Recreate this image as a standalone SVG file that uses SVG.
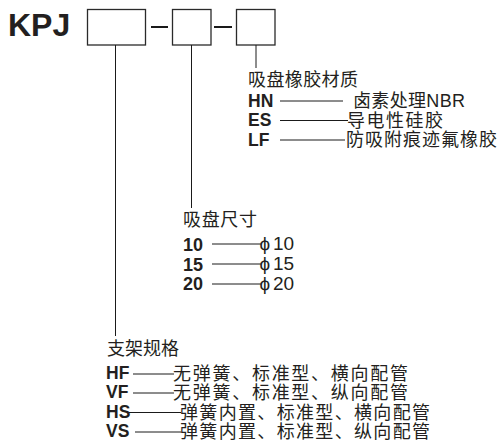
<svg xmlns="http://www.w3.org/2000/svg" width="499" height="441" viewBox="0 0 499 441">
<style>
text{fill:#231f20;font-family:"Liberation Sans","Noto Sans CJK SC",Arial,sans-serif}
.b{font-weight:bold;font-size:17.5px}
.t{font-size:18px}
.n{font-size:19px}
.box{fill:#fff;stroke:#2a2a2a;stroke-width:1.3}
.ln{stroke:#1a1a1a;stroke-width:1;fill:none}
.dash{stroke:#1a1a1a;stroke-width:2}
</style>
<rect width="499" height="441" fill="#fff"/>
<g id="title"><text x="8" y="36" font-size="32" font-weight="bold">KPJ</text></g>
<g id="box1"><rect class="box" x="87.5" y="9.5" width="58" height="35.5"/></g>
<g id="box2"><rect class="box" x="172.5" y="9.5" width="38.5" height="35.5"/></g>
<g id="box3"><rect class="box" x="236.5" y="9.5" width="38.5" height="35.5"/></g>
<g id="connectors">
<line class="dash" x1="151" y1="27" x2="168" y2="27"/>
<line class="dash" x1="214" y1="27" x2="232" y2="27"/>
<line class="ln" x1="115.5" y1="45" x2="115.5" y2="336"/>
<line class="ln" x1="191.5" y1="45" x2="191.5" y2="208"/>
<line class="ln" x1="256" y1="45" x2="256" y2="68"/>
<line class="ln" x1="280" y1="101" x2="343" y2="101"/>
<line class="ln" x1="280" y1="120.5" x2="348" y2="120.5"/>
<line class="ln" x1="280" y1="140" x2="345" y2="140"/>
<line class="ln" x1="212" y1="244" x2="261" y2="244"/>
<line class="ln" x1="212" y1="264" x2="261" y2="264"/>
<line class="ln" x1="212" y1="284" x2="261" y2="284"/>
<line class="ln" x1="133" y1="374" x2="174" y2="374"/>
<line class="ln" x1="133" y1="393" x2="174" y2="393"/>
<line class="ln" x1="129" y1="412.5" x2="181" y2="412.5"/>
<line class="ln" x1="135" y1="432" x2="181" y2="432"/>
</g>
<g id="material">
<text class="t" x="248" y="86" textLength="110" lengthAdjust="spacing">吸盘橡胶材质</text>
<text class="b" x="248" y="106.5">HN</text>
<text class="t" x="353" y="107" textLength="112" lengthAdjust="spacing">卤素处理NBR</text>
<text class="b" x="248" y="126">ES</text>
<text class="t" x="347" y="126.5" textLength="96" lengthAdjust="spacing">导电性硅胶</text>
<text class="b" x="248" y="146">LF</text>
<text class="t" x="346" y="146" textLength="151" lengthAdjust="spacing">防吸附痕迹氟橡胶</text>
</g>
<g id="size">
<text class="t" x="183" y="226" textLength="74" lengthAdjust="spacing">吸盘尺寸</text>
<text class="b" x="183" y="251" style="font-size:18px">10</text>
<text class="n" x="259.5" y="250">ϕ<tspan x="273">10</tspan></text>
<text class="b" x="183" y="270.5" style="font-size:18px">15</text>
<text class="n" x="259.5" y="270">ϕ<tspan x="273">15</tspan></text>
<text class="b" x="183" y="290" style="font-size:18px">20</text>
<text class="n" x="259.5" y="290">ϕ<tspan x="273">20</tspan></text>
</g>
<g id="bracket">
<text class="t" x="107" y="355" textLength="72" lengthAdjust="spacing">支架规格</text>
<text class="b" x="106" y="379">HF</text>
<text class="t" x="173" y="380" textLength="235" lengthAdjust="spacing">无弹簧、标准型、横向配管</text>
<text class="b" x="106" y="398">VF</text>
<text class="t" x="173" y="399" textLength="235" lengthAdjust="spacing">无弹簧、标准型、纵向配管</text>
<text class="b" x="106" y="417.5">HS</text>
<text class="t" x="180" y="418.5" textLength="250" lengthAdjust="spacing">弹簧内置、标准型、横向配管</text>
<text class="b" x="106" y="437">VS</text>
<text class="t" x="180" y="438" textLength="250" lengthAdjust="spacing">弹簧内置、标准型、纵向配管</text>
</g>
</svg>
